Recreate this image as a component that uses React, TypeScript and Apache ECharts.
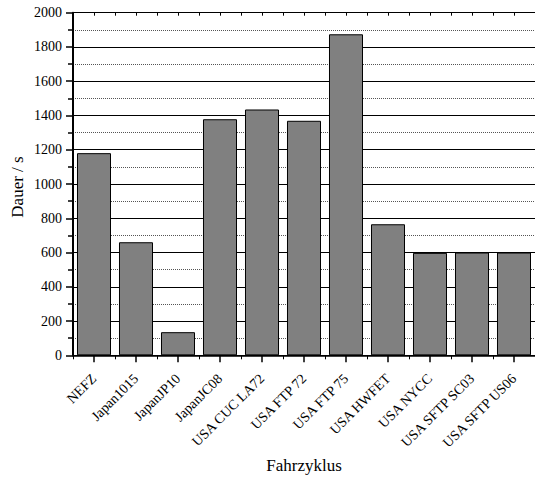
import React, { useEffect, useRef } from "react";
import * as echarts from "echarts";

const categories = [
  "NEFZ",
  "Japan1015",
  "JapanJP10",
  "JapanJC08",
  "USA CUC LA72",
  "USA FTP 72",
  "USA FTP 75",
  "USA HWFET",
  "USA NYCC",
  "USA SFTP SC03",
  "USA SFTP US06",
];
const durations = [1180, 660, 135, 1378, 1435, 1369, 1874, 765, 598, 600, 600];
const yMin = 0;
const yMax = 2000;
const yInterval = 200;
const xTitle = "Fahrzyklus";
const yTitle = "Dauer / s";

const FONT = "Liberation Serif";

export default function App() {
  const ref = useRef<HTMLDivElement>(null);
  useEffect(() => {
    if (!ref.current) return;
    const chart = echarts.init(ref.current, null, { renderer: "svg" });
    const hiddenCat = (position: string, align: boolean, len: number, inside: boolean) => ({
      type: "category",
      data: categories,
      position,
      gridIndex: 0,
      axisLine: { show: false },
      axisLabel: { show: false },
      splitLine: { show: false },
      axisTick: {
        show: true,
        alignWithLabel: align,
        length: len,
        inside,
        interval: 0,
        lineStyle: { color: "#000", width: 1 },
      },
    });
    chart.setOption({
      animation: false,
      backgroundColor: "#fff",
      textStyle: { fontFamily: FONT },
      grid: { left: 73, right: 0, top: 12.7, bottom: 123.7, containLabel: false },
      graphic: [
        {
          type: "text",
          x: 304,
          y: 465,
          style: {
            text: xTitle,
            fontFamily: FONT,
            fontSize: 17,
            fill: "#000",
            align: "center",
            verticalAlign: "middle",
          },
        },
        {
          type: "text",
          x: 17,
          y: 187,
          rotation: Math.PI / 2,
          style: {
            text: yTitle,
            fontFamily: FONT,
            fontSize: 17,
            fill: "#000",
            align: "center",
            verticalAlign: "middle",
          },
        },
      ],
      xAxis: [
        {
          type: "category",
          data: categories,
          position: "bottom",
          axisLine: { show: true, lineStyle: { color: "#000", width: 1.5 } },
          axisTick: {
            show: true,
            alignWithLabel: true,
            length: 7,
            interval: 0,
            lineStyle: { color: "#000", width: 1.5 },
          },
          axisLabel: {
            interval: 0,
            rotate: 45,
            margin: 21,
            fontFamily: FONT,
            fontSize: 14,
            color: "#000",
          },
          splitLine: { show: false },
        },
        hiddenCat("bottom", false, 4, false),
        hiddenCat("top", true, 3, true),
        hiddenCat("top", false, 3, true),
      ],
      yAxis: {
        type: "value",
        min: yMin,
        max: yMax,
        interval: yInterval,
        axisLine: { show: true, lineStyle: { color: "#000", width: 2 } },
        axisTick: { show: true, length: 7, lineStyle: { color: "#000", width: 1.5 } },
        minorTick: { show: true, splitNumber: 2, length: 5, lineStyle: { color: "#000", width: 1.5 } },
        axisLabel: {
          margin: 11,
          fontFamily: FONT,
          fontSize: 14,
          color: "#000",
          formatter: (v: number) => String(v),
        },
        splitLine: { show: true, lineStyle: { color: "#000", width: 1 } },
        minorSplitLine: { show: true, lineStyle: { color: "#555", width: 1, type: "dotted" } },
      },
      series: [
        {
          type: "bar",
          data: durations,
          xAxisIndex: 0,
          barCategoryGap: "19%",
          itemStyle: { color: "#808080", borderColor: "#000", borderWidth: 1 },
        },
      ],
    });
    return () => chart.dispose();
  }, []);
  return (
    <div
      ref={ref}
      style={{ position: "fixed", left: 0, top: 0, width: 535, height: 479 }}
    />
  );
}
